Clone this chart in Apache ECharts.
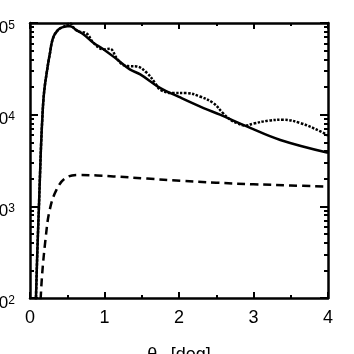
<!DOCTYPE html>
<html>
<head>
<meta charset="UTF-8">
<title>theta_c</title>
<script src="https://cdn.jsdelivr.net/npm/echarts@6/dist/echarts.min.js"></script>
<style>
  html, body { margin: 0; padding: 0; background: #fff; }
  #chart { width: 354px; height: 354px; }
</style>
</head>
<body>
<div id="chart"></div>
<script>
// solid curve
const solidTheta = [0.07, 0.08, 0.10, 0.12, 0.135, 0.15, 0.165, 0.18, 0.20, 0.224, 0.25, 0.27, 0.29, 0.32, 0.36, 0.40, 0.45, 0.50, 0.54, 0.63, 0.72, 0.85, 0.99, 1.17, 1.34, 1.48, 1.75, 2.0, 2.33, 2.55, 2.91, 3.36, 4.0];
const solidVals  = [50, 100, 350, 1000, 2300, 5000, 9000, 14500, 21000, 28500, 39000, 48000, 60000, 72000, 81000, 87000, 90500, 92300, 92000, 83000, 75000, 61000, 51500, 40000, 31200, 27500, 19500, 15600, 11800, 10000, 7450, 5300, 3850];

// dotted curve (oscillating)
const dotTheta = [0.07, 0.08, 0.10, 0.12, 0.135, 0.15, 0.165, 0.18, 0.20, 0.224, 0.25, 0.27, 0.29, 0.32, 0.36, 0.40, 0.45, 0.54, 0.60, 0.66, 0.76, 0.85, 0.99, 1.07, 1.17, 1.26, 1.34, 1.43, 1.57, 1.68, 1.75, 1.92, 2.1, 2.28, 2.46, 2.59, 2.69, 2.78, 2.89, 3.0, 3.2, 3.4, 3.63, 3.9, 4.0];
const dotVals  = [50, 100, 350, 1000, 2300, 5000, 9000, 14500, 21000, 28500, 39000, 48000, 60000, 72000, 81000, 87000, 91000, 99000, 86000, 80500, 77000, 61000, 51500, 52500, 40500, 34500, 33800, 33600, 28500, 22100, 18700, 17200, 17200, 15800, 13400, 10400, 8800, 8100, 7600, 8000, 8600, 8800, 8100, 6560, 5900];

// dashed curve
const dashTheta = [0.13, 0.155, 0.21, 0.265, 0.355, 0.48, 0.67, 0.9, 1.12, 1.57, 2.02, 2.5, 3.0, 3.5, 4.0];
const dashVals  = [50, 146, 450, 918, 1510, 2040, 2200, 2170, 2120, 2010, 1900, 1810, 1740, 1690, 1640];

// axis ticks
const xMin = 0, xMax = 4, xStep = 1;
const yMin = 100, yMax = 100000;
const yMinorTicks = [200, 300, 400, 500, 600, 700, 800, 900,
                     2000, 3000, 4000, 5000, 6000, 7000, 8000, 9000,
                     20000, 30000, 40000, 50000, 60000, 70000, 80000, 90000];

const pairs = (xs, ys) => xs.map((x, i) => [x, ys[i]]);
const font = 'Liberation Sans, Arial, sans-serif';
const lineStyle = { color: '#000', width: 2.5 };

const xBase = {
  type: 'value', min: xMin, max: xMax, interval: xStep,
  axisLine: { lineStyle },
  axisTick: { inside: true, length: 6, lineStyle: { color: '#000', width: 2 } },
  minorTick: { show: true, splitNumber: 2, length: 3, lineStyle: { color: '#000', width: 2 } },
  splitLine: { show: false },
};

const yMajor = {
  type: 'log', logBase: 10, min: yMin, max: yMax,
  axisLine: { show: true, lineStyle },
  axisTick: { inside: true, length: 8, lineStyle: { color: '#000', width: 2 } },
  splitLine: { show: false },
};
const yMinor = {
  type: 'log', logBase: 10, min: yMin, max: yMax,
  axisLine: { show: false },
  axisTick: { inside: true, length: 4, customValues: yMinorTicks, lineStyle: { color: '#000', width: 2 } },
  axisLabel: { show: false },
  splitLine: { show: false },
};

const chart = echarts.init(document.getElementById('chart'));
chart.setOption({
  animation: false,
  grid: { left: 30, right: 26, top: 23, bottom: 56, containLabel: false, outerBoundsMode: 'none' },
  xAxis: [
    Object.assign({}, xBase, {
      position: 'bottom',
      name: '{t|θ}{s|c}  {t|[deg]}',
      nameLocation: 'middle',
      nameGap: 45,
      nameTextStyle: {
        rich: {
          t: { fontFamily: font, fontSize: 18, color: '#000' },
          s: { fontFamily: font, fontSize: 14, color: '#000', padding: [10, 0, 0, 0] },
        },
      },
      axisLabel: { fontFamily: font, fontSize: 18, color: '#000', margin: 11 },
    }),
    Object.assign({}, xBase, { position: 'top', axisLabel: { show: false } }),
  ],
  yAxis: [
    Object.assign({}, yMajor, {
      position: 'left',
      axisLabel: {
        margin: 15,
        padding: [10, 0, 0, 0],
        formatter: v => '{b|10}{s|' + Math.round(Math.log10(v)) + '}',
        rich: {
          b: { fontFamily: font, fontSize: 17, lineHeight: 17, color: '#000', verticalAlign: 'bottom' },
          s: { fontFamily: font, fontSize: 12, lineHeight: 12, color: '#000', verticalAlign: 'top', padding: [0, 0, 12, 0] },
        },
      },
    }),
    Object.assign({}, yMinor, { position: 'left' }),
    Object.assign({}, yMajor, { position: 'right', axisLabel: { show: false } }),
    Object.assign({}, yMinor, { position: 'right' }),
  ],
  series: [
    {
      type: 'line', data: pairs(solidTheta, solidVals), smooth: 0.4,
      showSymbol: false, lineStyle: { color: '#000', width: 2.5 },
    },
    {
      type: 'line', data: pairs(dotTheta, dotVals), smooth: 0.4,
      showSymbol: false, lineStyle: { color: '#000', width: 2.5, type: [2.5, 1.5] },
    },
    {
      type: 'line', data: pairs(dashTheta, dashVals), smooth: 0.4,
      showSymbol: false, lineStyle: { color: '#000', width: 2.5, type: [8, 5] },
    },
  ],
});
</script>
</body>
</html>
